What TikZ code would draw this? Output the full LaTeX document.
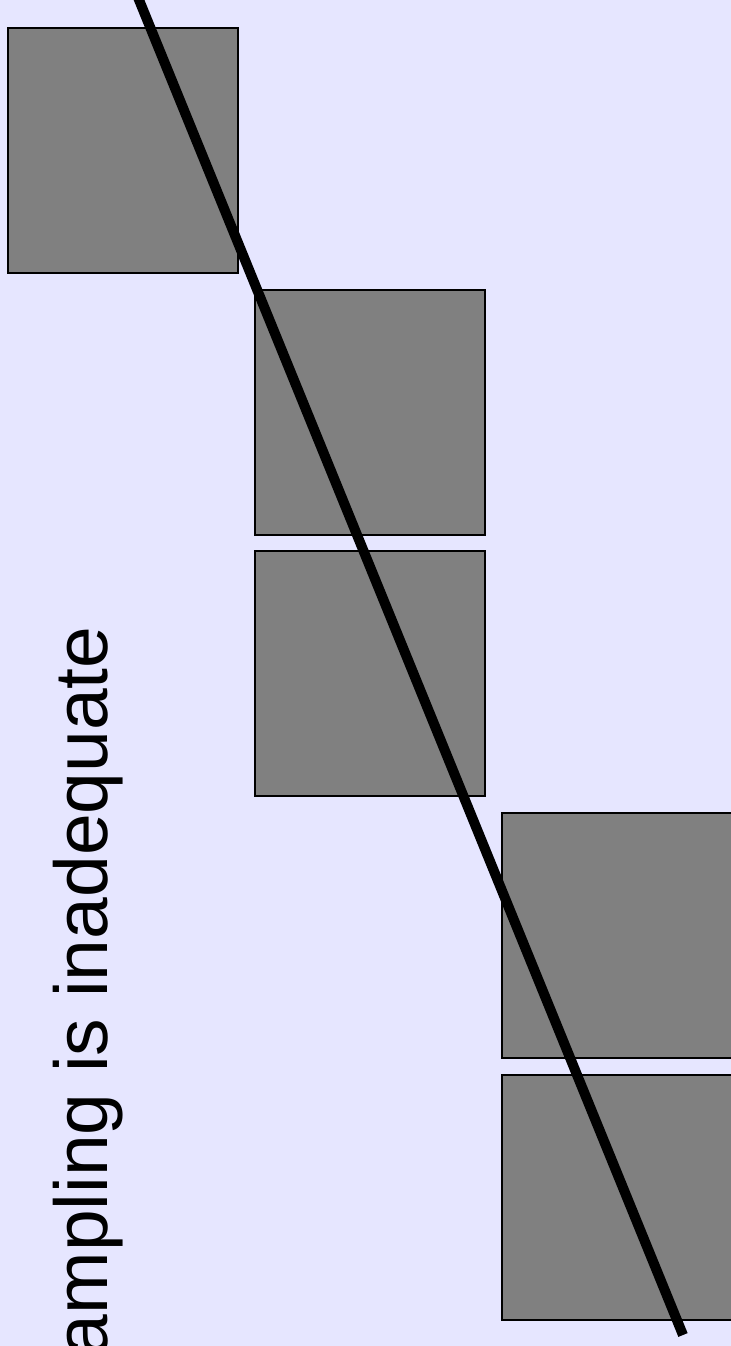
\documentclass[tikz,border=0pt]{standalone}
\usepackage{fontspec}
\setmainfont{Liberation Sans}
\definecolor{slidebg}{HTML}{E6E6FF}
\begin{document}
\begin{tikzpicture}[
    x=0.5pt, y=-0.5pt,
    sample/.style={
        draw=black,
        line width=0.75pt,
        fill=gray,
        minimum width=115pt,
        minimum height=122.5pt,
        inner sep=0pt
    },
    caption/.style={
        rotate=90,
        anchor=base east,
        inner sep=0pt,
        font=\fontsize{37.5}{45}\selectfont
    },
    fit line/.style={line width=5pt, draw=black}
]
    \useasboundingbox (0,0) rectangle (731,1346);
    \fill[slidebg] (0,0) rectangle (731,1346);
    \clip (0,0) rectangle (731,1346);

    \node[sample] (s1) at (123,150.5) {};
    \node[sample] (s2) at (370,412.5) {};
    \node[sample] (s3) at (370,673.5) {};
    \node[sample] (s4) at (617,935.5) {};
    \node[sample] (s5) at (617,1197.5) {};

    \node[caption] (label) at (107,626) {Sampling is inadequate};

    \coordinate (start) at (135,-10);
    \coordinate (stop) at (683,1335);
    \draw[fit line] (start) -- (stop);
\end{tikzpicture}
\end{document}
